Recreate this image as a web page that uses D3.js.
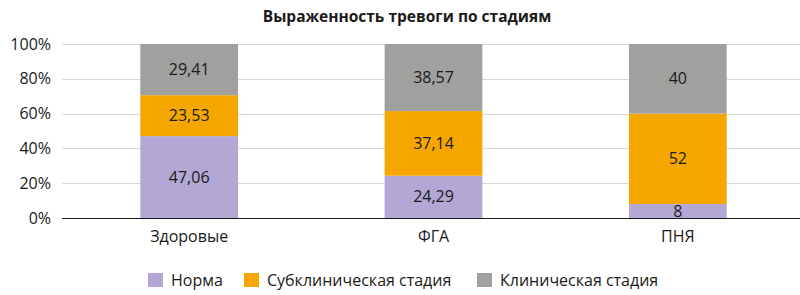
<!DOCTYPE html>
<html>
<head>
<meta charset="utf-8">
<script src="https://cdn.jsdelivr.net/npm/d3@7"></script>
<style>
  body { margin: 0; background: #fff; }
  svg { display: block; font-family: "Open Sans", "Noto Sans", sans-serif; }
</style>
</head>
<body>
<div id="chart"></div>
<script>
const title = "Выраженность тревоги по стадиям";
const categories = ["Здоровые", "ФГА", "ПНЯ"];
const seriesNames = ["Норма", "Субклиническая стадия", "Клиническая стадия"];
const norma = [47.06, 24.29, 8];
const subclinical = [23.53, 37.14, 52];
const clinical = [29.41, 38.57, 40];
const yTicks = [0, 20, 40, 60, 80, 100];

const colors = ["#b3a8d5", "#f5a700", "#a0a09f"];

const width = 800;
const height = 295;
const margin = { top: 44, right: 0, bottom: 77, left: 67 };

const rows = categories.map((c, i) => ({
  cat: c,
  "Норма": norma[i],
  "Субклиническая стадия": subclinical[i],
  "Клиническая стадия": clinical[i]
}));

const stack = d3.stack().keys(seriesNames)(rows);

const x = d3.scaleBand()
  .domain(categories)
  .range([margin.left, width - margin.right])
  .paddingInner(0.6)
  .paddingOuter(0.3);

const y = d3.scaleLinear()
  .domain([0, 100])
  .range([height - margin.bottom, margin.top]);

const svg = d3.select("#chart").append("svg")
  .attr("width", width)
  .attr("height", height);

svg.append("text")
  .attr("x", 407)
  .attr("y", 22)
  .attr("text-anchor", "middle")
  .attr("font-size", 15.5)
  .attr("font-weight", "bold")
  .attr("fill", "#1a1a1a")
  .text(title);

// grid
svg.append("g")
  .selectAll("line")
  .data(yTicks.slice(1))
  .join("line")
  .attr("x1", 62)
  .attr("x2", width)
  .attr("y1", d => Math.round(y(d)) + 0.5)
  .attr("y2", d => Math.round(y(d)) + 0.5)
  .attr("stroke", "#d9d9d9");

// y axis labels
const yAxis = svg.append("g")
  .attr("transform", "translate(62,0)")
  .call(d3.axisLeft(y).tickValues(yTicks).tickFormat(d => d + "%").tickSize(0).tickPadding(11));
yAxis.select(".domain").remove();
yAxis.selectAll("text")
  .attr("font-size", 16)
  .attr("font-family", "\"Open Sans\", sans-serif")
  .attr("fill", "#1a1a1a");

// bars
const layers = svg.append("g")
  .selectAll("g")
  .data(stack)
  .join("g")
  .attr("fill", (d, i) => colors[i]);

layers.selectAll("rect")
  .data(d => d)
  .join("rect")
  .attr("x", d => x(d.data.cat))
  .attr("width", x.bandwidth())
  .attr("y", d => y(d[1]))
  .attr("height", d => y(d[0]) - y(d[1]));

layers.selectAll("text")
  .data(d => d)
  .join("text")
  .attr("x", d => x(d.data.cat) + x.bandwidth() / 2)
  .attr("y", d => (y(d[0]) + y(d[1])) / 2)
  .attr("dy", "0.35em")
  .attr("text-anchor", "middle")
  .attr("font-size", 16)
  .attr("fill", "#1a1a1a")
  .text(d => String(+(d[1] - d[0]).toFixed(2)).replace(".", ","));

// x axis
const xAxis = svg.append("g")
  .attr("transform", `translate(0,${y(0)})`)
  .call(d3.axisBottom(x).tickSize(0).tickPadding(13));
xAxis.select(".domain")
  .attr("d", `M62,0.5H${width}`)
  .attr("stroke", "#1a1a1a")
  .attr("stroke-width", 1.2);
xAxis.selectAll("text")
  .attr("font-size", 16)
  .attr("font-family", "\"Open Sans\", sans-serif")
  .attr("fill", "#1a1a1a");

// legend
const legend = svg.append("g").attr("transform", "translate(148,273)");
const offsets = [0, 96, 329];
seriesNames.forEach((name, i) => {
  const g = legend.append("g").attr("transform", `translate(${offsets[i]},0)`);
  g.append("rect").attr("width", 15).attr("height", 14).attr("fill", colors[i]);
  g.append("text")
    .attr("x", 23)
    .attr("y", 7)
    .attr("dy", "0.35em")
    .attr("font-size", 16)
    .attr("fill", "#1a1a1a")
    .text(name);
});
</script>
</body>
</html>
